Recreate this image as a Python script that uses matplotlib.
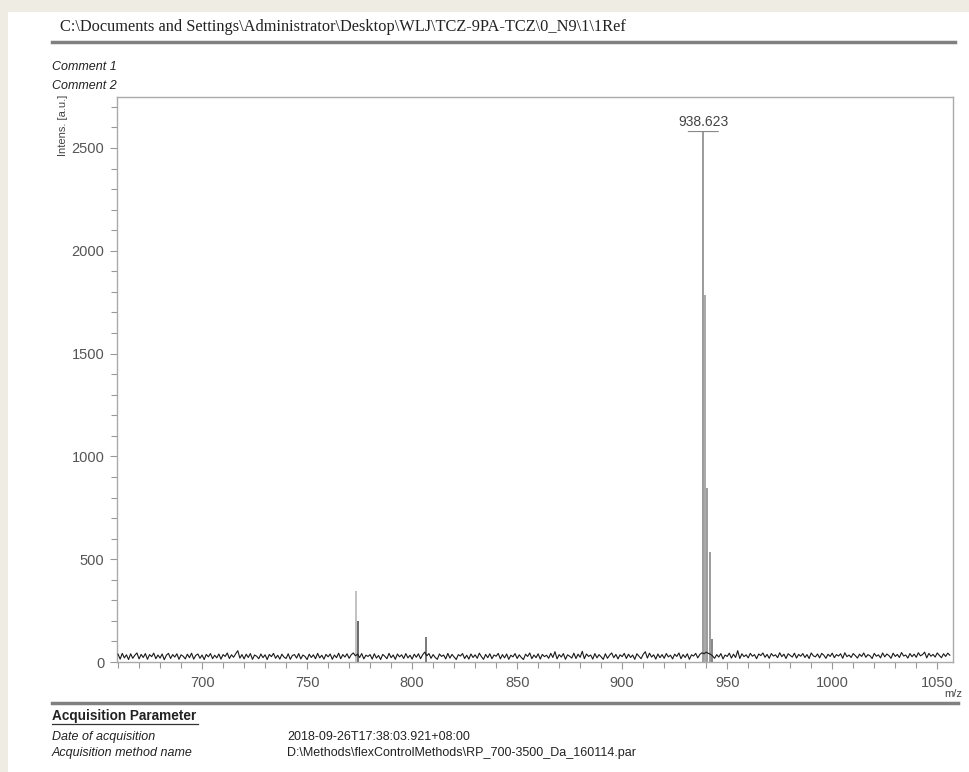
import numpy as np
import matplotlib
matplotlib.use("Agg")
import matplotlib.pyplot as plt
from matplotlib.ticker import MultipleLocator
from matplotlib.patches import Rectangle
from matplotlib.lines import Line2D

plt.rcParams['font.family'] = ['Liberation Sans', 'DejaVu Sans']

# baseline intensity, one value per m/z unit from 660 to 1056
mz_start = 660
baseline = [
    38, 14, 42, 20, 35, 12, 40, 18, 33, 44, 15, 37, 22, 41, 13, 36, 26, 43, 16, 34,
    19, 39, 11, 33, 42, 17, 36, 24, 40, 13, 35, 28, 15, 38, 21, 43, 14, 32, 39, 18,
    34, 12, 37, 25, 41, 16, 33, 20, 39, 14, 36, 27, 44, 17, 35, 23, 40, 55, 19, 36,
    15, 38, 22, 41, 13, 34, 28, 16, 39, 21, 35, 12, 37, 26, 42, 18, 33, 14, 38, 24,
    17, 40, 13, 32, 36, 19, 41, 15, 34, 27, 12, 38, 22, 35, 16, 42, 20, 33, 14, 37,
    25, 39, 13, 34, 21, 43, 16, 36, 24, 40, 18, 35, 44, 30, 38, 22, 41, 15, 33, 27,
    36, 14, 40, 19, 32, 12, 37, 28, 16, 42, 21, 34, 13, 39, 25, 35, 17, 41, 20, 33,
    14, 38, 23, 40, 16, 35, 48, 30, 41, 18, 36, 22, 13, 39, 27, 34, 15, 42, 19, 37,
    24, 12, 36, 29, 41, 17, 33, 14, 39, 22, 35, 18, 43, 26, 13, 37, 21, 40, 16, 34,
    28, 42, 15, 36, 20, 39, 13, 33, 25, 41, 17, 35, 22, 12, 38, 27, 44, 16, 34, 21,
    40, 14, 37, 26, 33, 18, 42, 22, 50, 15, 36, 24, 41, 13, 35, 28, 19, 43, 17, 38,
    23, 52, 16, 39, 27, 34, 14, 41, 20, 36, 25, 13, 40, 18, 33, 44, 21, 37, 15, 35,
    26, 42, 17, 38, 22, 34, 13, 40, 28, 16, 37, 50, 19, 43, 24, 35, 14, 39, 21, 36,
    18, 41, 25, 33, 15, 38, 27, 44, 16, 36, 22, 40, 13, 35, 29, 42, 20, 37, 45, 40,
    48, 42, 38, 30, 18, 36, 24, 41, 15, 34, 27, 43, 19, 38, 22, 55, 17, 40, 26, 35,
    20, 42, 28, 36, 16, 39, 31, 44, 23, 37, 18, 41, 29, 35, 21, 45, 26, 38, 17, 40,
    32, 24, 43, 19, 37, 28, 41, 22, 36, 17, 44, 30, 25, 39, 20, 42, 33, 18, 38, 27,
    43, 21, 36, 29, 40, 18, 45, 26, 34, 22, 41, 31, 19, 38, 27, 44, 23, 36, 30, 17,
    42, 28, 35, 20, 44, 25, 39, 31, 18, 43, 27, 37, 22, 46, 29, 34, 19, 41, 26, 38,
    23, 45, 30, 36, 48, 20, 42, 28, 37, 24, 44, 32, 21, 40, 27, 43, 33,
]
mz = np.arange(mz_start, mz_start + len(baseline))

# isotope / fragment peaks
peak_mz = [773.3, 774.3, 806.4, 938.623, 939.6, 940.6, 941.6, 942.6]
peak_int = [345, 200, 120, 2580, 1785, 845, 535, 110]
peak_col = ['#b0b0b0', '#444444', '#555555', '#808080', '#909090', '#808080', '#808080', '#666666']
label_mz = 938.623

fig = plt.figure(figsize=(9.7, 7.72), dpi=100)
W, H = 970, 772

def fx(px):
    return px / W

def fy(py):
    return 1 - py / H

# page border
fig.patches.append(Rectangle((0, fy(12)), 1, 12 / H, transform=fig.transFigure,
                             facecolor='#efece4', edgecolor='none', zorder=0))
fig.patches.append(Rectangle((0, 0), 8 / W, 1, transform=fig.transFigure,
                             facecolor='#efece4', edgecolor='none', zorder=0))

# header
fig.text(fx(60), fy(27), r'C:\Documents and Settings\Administrator\Desktop\WLJ\TCZ-9PA-TCZ\0_N9\1\1Ref',
         family=['Liberation Serif'], fontsize=11.8, color='#222222', va='center', ha='left')
fig.add_artist(Line2D([fx(52), fx(955)], [fy(42), fy(42)], transform=fig.transFigure,
                      color='#808080', lw=2.5))
fig.text(fx(52), fy(67), 'Comment 1', fontsize=9, style='italic', color='#222222', va='center')
fig.text(fx(52), fy(86), 'Comment 2', fontsize=9, style='italic', color='#222222', va='center')

# spectrum
ax = fig.add_axes([fx(117), fy(662), fx(953 - 117), (662 - 97) / H])
ax.plot(mz, baseline, color='#1a1a1a', lw=0.8, zorder=3)
ax.vlines(peak_mz, 0, peak_int, colors=peak_col, lw=1.1, zorder=2)

top = peak_int[peak_mz.index(label_mz)]
ax.annotate(f'{label_mz:.3f}', xy=(label_mz, top), xytext=(0, 2), textcoords='offset points',
            ha='center', va='bottom', fontsize=10, color='#444444')
ax.annotate('', xy=(label_mz - 8.5, top), xytext=(label_mz + 8.5, top),
            arrowprops=dict(arrowstyle='-', color='#888888', lw=0.8))

ax.set_xlim(659.5, 1057.5)
ax.set_ylim(0, 2748)
ax.xaxis.set_major_locator(MultipleLocator(50))
ax.xaxis.set_minor_locator(MultipleLocator(10))
ax.yaxis.set_major_locator(MultipleLocator(500))
ax.yaxis.set_minor_locator(MultipleLocator(100))
ax.tick_params(which='both', direction='out', color='#999999', labelcolor='#555555', labelsize=10.5)
ax.tick_params(which='major', length=5, width=0.8)
ax.tick_params(which='minor', length=4, width=0.8)
ax.tick_params(axis='x', pad=5)
ax.tick_params(axis='y', pad=4)
for s in ax.spines.values():
    s.set_color('#aaaaaa')
    s.set_linewidth(1.0)

fig.text(fx(63), fy(95), 'Intens. [a.u.]', rotation=90, fontsize=8, color='#444444',
         ha='center', va='top')
fig.text(fx(953), fy(694), 'm/z', fontsize=8, color='#444444', ha='center', va='center')

# acquisition block
fig.add_artist(Line2D([fx(52), fx(958)], [fy(703), fy(703)], transform=fig.transFigure,
                      color='#808080', lw=2.5))
fig.text(fx(52), fy(716), 'Acquisition Parameter', fontsize=9.8, weight='bold', color='#222222', va='center')
fig.add_artist(Line2D([fx(52), fx(198)], [fy(724), fy(724)], transform=fig.transFigure,
                      color='#333333', lw=0.9))
fig.text(fx(52), fy(737), 'Date of acquisition', fontsize=9, style='italic', color='#222222', va='center')
fig.text(fx(52), fy(753), 'Acquisition method name', fontsize=9, style='italic', color='#222222', va='center')
fig.text(fx(287), fy(737), '2018-09-26T17:38:03.921+08:00', fontsize=9, color='#222222', va='center')
fig.text(fx(287), fy(753), r'D:\Methods\flexControlMethods\RP_700-3500_Da_160114.par', fontsize=9,
         color='#222222', va='center')

fig.savefig('out.png', dpi=100, facecolor='white')
